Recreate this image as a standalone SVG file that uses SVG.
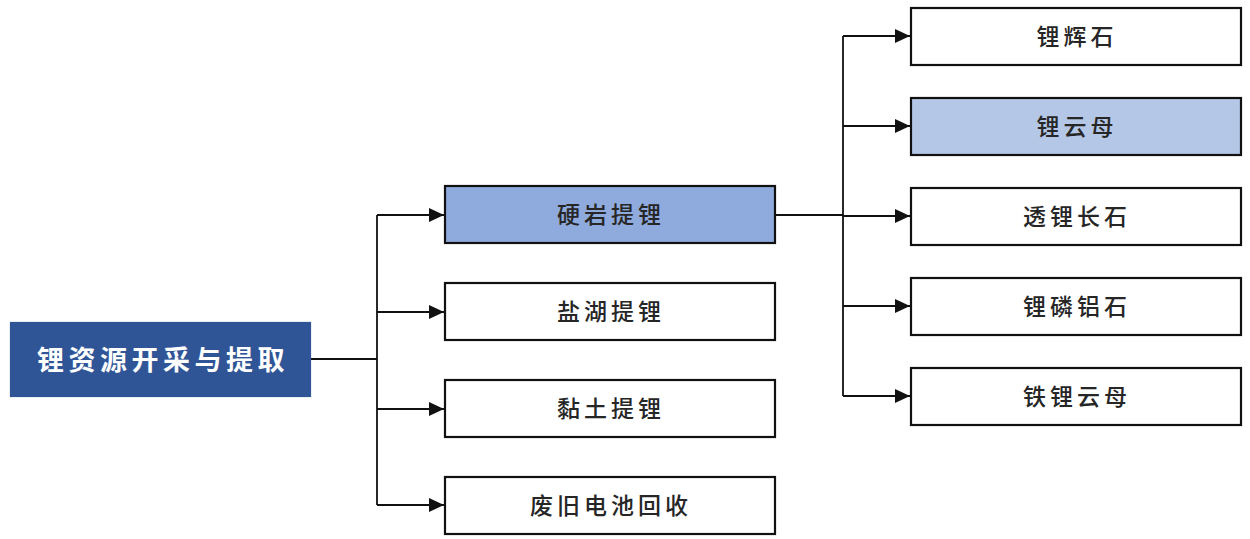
<svg xmlns="http://www.w3.org/2000/svg" width="1250" height="539" viewBox="0 0 1250 539">
<style>
.box{stroke:#111;stroke-width:2.2;fill:#fff}
.hl1{fill:#8FAADC}
.hl2{fill:#B4C7E7}
.root{fill:#2F5597;stroke:#2F5597}
.t{font-family:"Noto Sans CJK SC","Noto Sans CJK TC",sans-serif;font-size:23px;fill:#262626;text-anchor:middle;dominant-baseline:central;letter-spacing:4px;font-weight:500}
.rt{font-size:27px;fill:#fff;font-weight:700;letter-spacing:4.5px}
.ln{stroke:#111;stroke-width:1.8;fill:none}
</style>
<defs>
<marker id="ar" viewBox="0 0 15 14" refX="15" refY="7" markerWidth="15" markerHeight="14" markerUnits="userSpaceOnUse" orient="auto">
<path d="M0,0 L15,7 L0,14 Z" fill="#111"/>
</marker>
</defs>
<g id="connectors">
<path class="ln" d="M310,359 H377"/>
<path class="ln" d="M377,215 V505"/>
<path class="ln" d="M377,215 H444" marker-end="url(#ar)"/>
<path class="ln" d="M377,312 H444" marker-end="url(#ar)"/>
<path class="ln" d="M377,409 H444" marker-end="url(#ar)"/>
<path class="ln" d="M377,505 H444" marker-end="url(#ar)"/>
<path class="ln" d="M775,215 H843"/>
<path class="ln" d="M843,36 V396"/>
<path class="ln" d="M843,36 H910" marker-end="url(#ar)"/>
<path class="ln" d="M843,126 H910" marker-end="url(#ar)"/>
<path class="ln" d="M843,216 H910" marker-end="url(#ar)"/>
<path class="ln" d="M843,306 H910" marker-end="url(#ar)"/>
<path class="ln" d="M843,396 H910" marker-end="url(#ar)"/>
</g>
<g id="n-root"><rect class="box root" x="11" y="323" width="299" height="73"/><text class="t rt" x="163" y="358">锂资源开采与提取</text></g>
<g id="n-hard"><rect class="box hl1" x="445" y="186" width="330" height="57"/><text class="t" x="611" y="213">硬岩提锂</text></g>
<g id="n-salt"><rect class="box" x="445" y="283" width="330" height="57"/><text class="t" x="611" y="310">盐湖提锂</text></g>
<g id="n-clay"><rect class="box" x="445" y="380" width="330" height="57"/><text class="t" x="611" y="407">黏土提锂</text></g>
<g id="n-recycle"><rect class="box" x="445" y="477" width="330" height="57"/><text class="t" x="611" y="504">废旧电池回收</text></g>
<g id="n-spod"><rect class="box" x="911" y="8" width="330" height="57"/><text class="t" x="1077" y="35">锂辉石</text></g>
<g id="n-lepi"><rect class="box hl2" x="911" y="98" width="330" height="57"/><text class="t" x="1077" y="125">锂云母</text></g>
<g id="n-petal"><rect class="box" x="911" y="188" width="330" height="57"/><text class="t" x="1077" y="215">透锂长石</text></g>
<g id="n-ambly"><rect class="box" x="911" y="278" width="330" height="57"/><text class="t" x="1077" y="305">锂磷铝石</text></g>
<g id="n-zinn"><rect class="box" x="911" y="368" width="330" height="57"/><text class="t" x="1077" y="395">铁锂云母</text></g>
</svg>
